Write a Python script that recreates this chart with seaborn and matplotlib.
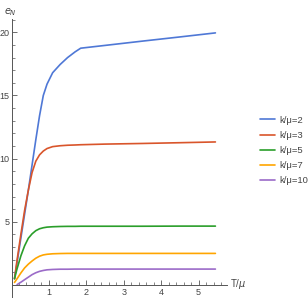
import matplotlib
matplotlib.use('Agg')
import matplotlib.pyplot as plt
from matplotlib.ticker import MultipleLocator
import numpy as np
import pandas as pd
import seaborn as sns

sns.set_style('white')
plt.rcParams['font.family'] = ['Liberation Sans', 'DejaVu Sans']
plt.rcParams['mathtext.fontset'] = 'dejavusans'

# Data
t_mu = [0.08, 0.15, 0.25, 0.35, 0.45, 0.55, 0.65, 0.75, 0.85, 0.95,
        1.1, 1.3, 1.5, 1.7, 1.85, 2.5, 3.5, 4.5, 5.45]

e_k2 = [0.5, 1.8, 3.7, 5.6, 7.5, 9.5, 11.5, 13.4, 15.0, 15.9,
        16.8, 17.45, 18.0, 18.45, 18.74, 18.96, 19.3, 19.63, 19.95]
e_k3 = [0.5, 2.0, 4.0, 5.9, 7.5, 8.9, 9.8, 10.3, 10.6, 10.8,
        10.95, 11.02, 11.06, 11.08, 11.1, 11.15, 11.2, 11.26, 11.32]
e_k5 = [0.5, 1.3, 2.3, 3.1, 3.7, 4.05, 4.3, 4.45, 4.53, 4.58,
        4.61, 4.63, 4.64, 4.64, 4.65, 4.65, 4.65, 4.66, 4.66]
e_k7 = [0.2, 0.5, 0.95, 1.35, 1.65, 1.9, 2.12, 2.28, 2.38, 2.43,
        2.47, 2.49, 2.5, 2.5, 2.5, 2.5, 2.5, 2.5, 2.5]
e_k10 = [np.nan, 0.03, 0.22, 0.42, 0.62, 0.82, 0.97, 1.08, 1.15, 1.2,
         1.23, 1.25, 1.25, 1.26, 1.26, 1.26, 1.26, 1.26, 1.26]

labels = ['k/μ=2', 'k/μ=3', 'k/μ=5', 'k/μ=7', 'k/μ=10']
colors = ['#4F78D6', '#D9552B', '#2A9E2A', '#FFA500', '#9B6BC8']

series = [e_k2, e_k3, e_k5, e_k7, e_k10]
df = pd.concat([
    pd.DataFrame({'T': t_mu, 'e': vals, 'k': lab})
    for vals, lab in zip(series, labels)
]).dropna()

fig = plt.figure(figsize=(3.08, 3.00), dpi=100)
ax = fig.add_axes([11.5 / 308, 3 / 300, (227 - 11.5) / 308, (297 - 19) / 300])

sns.lineplot(data=df, x='T', y='e', hue='k', hue_order=labels,
             palette=colors, sort=False, estimator=None, linewidth=1.2, ax=ax)

ax.set_xlim(0, 5.76)
ax.set_ylim(-0.95, 21.05)

# Mathematica-like axes crossing at origin
ax.spines['top'].set_visible(False)
ax.spines['right'].set_visible(False)
ax.spines['bottom'].set_position(('data', 0))
for s in ('left', 'bottom'):
    ax.spines[s].set_color('#555555')
    ax.spines[s].set_linewidth(0.7)

ax.xaxis.set_major_locator(MultipleLocator(1))
ax.xaxis.set_minor_locator(MultipleLocator(0.2))
ax.yaxis.set_major_locator(MultipleLocator(5))
ax.yaxis.set_minor_locator(MultipleLocator(1))
ax.set_xticks([1, 2, 3, 4, 5])
ax.set_yticks([5, 10, 15, 20])
ax.tick_params(which='major', direction='in', length=3.5, width=0.6,
               color='#555555', labelsize=6.5, labelcolor='#444444')
ax.tick_params(which='minor', direction='in', length=2, width=0.5,
               color='#555555')
ax.tick_params(axis='y', which='both', pad=1.5, left=True)
ax.tick_params(axis='x', which='both', pad=2.5, bottom=True)
ax.set_xlabel('')
ax.set_ylabel('')

fig.text(10 / 308, 1 - 12 / 300, r'$e_N$', fontsize=7, color='#444444',
         ha='center', va='center')
fig.text(230 / 308, 1 - 284 / 300, r'T/$\mu$', fontsize=7, color='#444444',
         ha='left', va='center')

handles, labs = ax.get_legend_handles_labels()
ax.get_legend().remove()
fig.legend(handles, labs, loc='upper left',
           bbox_to_anchor=(256 / 308, 1 - 112 / 300), frameon=False,
           fontsize=6.8, handlelength=1.6, handletextpad=0.45,
           labelspacing=0.65, borderaxespad=0, labelcolor='#444444')

fig.savefig('out.png', dpi=100, facecolor='white')
plt.close()
